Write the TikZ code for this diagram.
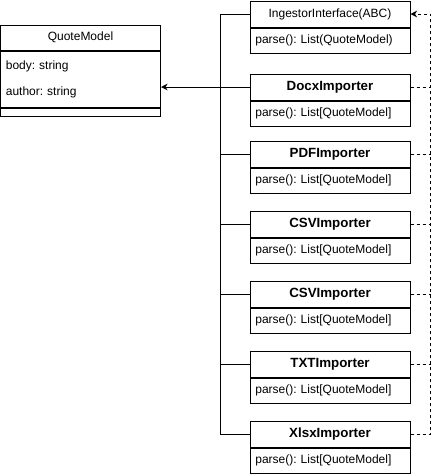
\documentclass[tikz,border=0pt]{standalone}
\usepackage{fontspec}
\setmainfont{Liberation Sans}
\usetikzlibrary{arrows.meta,positioning}
\frenchspacing

\tikzset{
  head/.style={draw,minimum width=120pt,minimum height=19.5pt,inner sep=0pt},
  meth/.style={draw,minimum width=120pt,minimum height=18.75pt,inner xsep=4pt,inner ysep=0pt,text width=112pt,align=left},
}

\begin{document}
\begin{tikzpicture}[x=0.75pt,y=-0.75pt,line width=0.75pt,font=\fontsize{9}{19.5}\selectfont,
    >={Stealth[length=5pt,width=5pt]}]
      \useasboundingbox (0,0) rectangle (439,476);

      % the model
      \node[head,minimum height=18.75pt] (quote) at (80.5,37.5) {QuoteModel};
      \node[meth,minimum height=42pt,below=0pt of quote] (quotef) {body: string\\author: string};
      \node[draw,minimum width=120pt,minimum height=6pt,inner sep=0pt,below=0pt of quotef] (quoted) {};

      % interface and importers
      \node[head] (ing) at (330,14) {IngestorInterface(ABC)};
      \node[meth,below=0pt of ing] (ingm) {parse(): List(QuoteModel)};
      \node[head,font=\bfseries] (docx) at (330,87) {DocxImporter};
      \node[meth,below=0pt of docx] (docxm) {parse(): List[QuoteModel]};
      \node[head,font=\bfseries] (pdf) at (330,154) {PDFImporter};
      \node[meth,below=0pt of pdf] (pdfm) {parse(): List[QuoteModel]};
      \node[head,font=\bfseries] (csv) at (330,224) {CSVImporter};
      \node[meth,below=0pt of csv] (csvm) {parse(): List[QuoteModel]};
      \node[head,font=\bfseries] (csvb) at (330,294) {CSVImporter};
      \node[meth,below=0pt of csvb] (csvbm) {parse(): List[QuoteModel]};
      \node[head,font=\bfseries] (txt) at (330,364) {TXTImporter};
      \node[meth,below=0pt of txt] (txtm) {parse(): List[QuoteModel]};
      \node[head,font=\bfseries] (xlsx) at (330,434) {XlsxImporter};
      \node[meth,below=0pt of xlsx] (xlsxm) {parse(): List[QuoteModel]};

      \coordinate (trunk) at (220.5,0);
      \coordinate (rail) at (430.5,0);

      % solid bus to the model
      \draw (ing.west) -- (ing.west -| trunk) -- (xlsx.west -| trunk) -- (xlsx.west);
      \draw (pdf.west) -- (pdf.west -| trunk);
      \draw (csv.west) -- (csv.west -| trunk);
      \draw (csvb.west) -- (csvb.west -| trunk);
      \draw (txt.west) -- (txt.west -| trunk);
      \draw[->] (docx.west) -- (docx.west -| quotef.east);

      % dashed realisation
      \draw[->,dash pattern=on 2.25pt off 2.25pt] (xlsx.east) -- (xlsx.east -| rail) -- (ing.east -| rail) -- (ing.east);
      \draw[dash pattern=on 2.25pt off 2.25pt] (docx.east) -- (docx.east -| rail);
      \draw[dash pattern=on 2.25pt off 2.25pt] (pdf.east) -- (pdf.east -| rail);
      \draw[dash pattern=on 2.25pt off 2.25pt] (csv.east) -- (csv.east -| rail);
      \draw[dash pattern=on 2.25pt off 2.25pt] (csvb.east) -- (csvb.east -| rail);
      \draw[dash pattern=on 2.25pt off 2.25pt] (txt.east) -- (txt.east -| rail);
\end{tikzpicture}
\end{document}
